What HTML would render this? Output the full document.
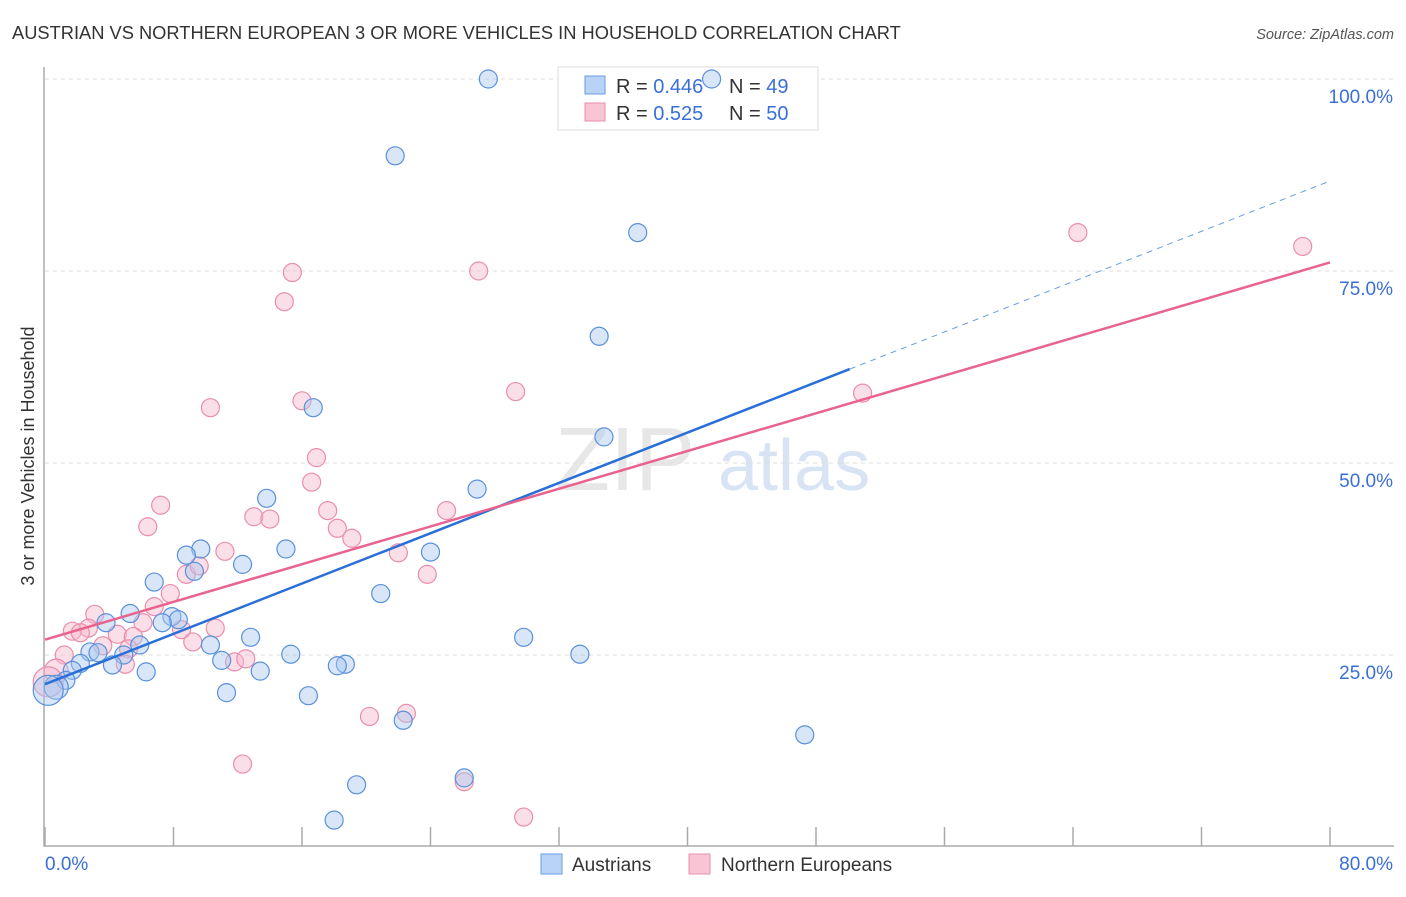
<!DOCTYPE html>
<html><head><meta charset="utf-8"><style>
body{margin:0;background:#fff;font-family:"Liberation Sans",sans-serif;}
svg text{font-family:"Liberation Sans",sans-serif;}
</style></head><body>
<svg width="1406" height="892" xmlns="http://www.w3.org/2000/svg">
<text x="12" y="39" font-size="18.3" fill="#333">AUSTRIAN VS NORTHERN EUROPEAN 3 OR MORE VEHICLES IN HOUSEHOLD CORRELATION CHART</text>
<text x="1394" y="39" font-size="14.5" fill="#555" font-style="italic" text-anchor="end">Source: ZipAtlas.com</text>
<text x="0" y="0" transform="translate(34,456) rotate(-90)" font-size="18" fill="#333" text-anchor="middle">3 or more Vehicles in Household</text>
<g><text x="555" y="490" font-size="90" fill="#ddd" font-family="Liberation Serif" opacity="0.7">ZIP</text><text x="718" y="490" font-size="72" fill="#c8d8f0" opacity="0.7">atlas</text></g>
<g id="grid"></g>
<g id="axes"></g>
<g>
<rect x="558" y="67" width="260" height="63" fill="#fff" stroke="#ddd"/>
<rect x="585" y="76" width="20" height="18" fill="#b8d3f5" stroke="#6a9de0"/>
<rect x="585" y="103" width="20" height="18" fill="#f9c5d4" stroke="#ea8eab"/>
<text x="616" y="93" font-size="20" fill="#333">R = <tspan fill="#3a6fd8">0.446</tspan></text>
<text x="729" y="93" font-size="20" fill="#333">N = <tspan fill="#3a6fd8">49</tspan></text>
<text x="616" y="120" font-size="20" fill="#333">R = <tspan fill="#3a6fd8">0.525</tspan></text>
<text x="729" y="120" font-size="20" fill="#333">N = <tspan fill="#3a6fd8">50</tspan></text>
</g>
<g id="marks"></g>
<g>
<rect x="541" y="854" width="21" height="20" fill="#b8d3f5" stroke="#6a9de0"/>
<text x="572" y="871" font-size="19" fill="#333">Austrians</text>
<rect x="689" y="854" width="21" height="20" fill="#f9c5d4" stroke="#ea8eab"/>
<text x="721" y="871" font-size="19" fill="#333">Northern Europeans</text>
</g>
</svg>
<script>
const blueX=[27.6,41.5,21.8,36.9,34.5,16.7,34.8,26.9,13.8,9.7,8.8,15.0,24.0,12.3,9.3,6.8,20.9,5.3,7.9,8.3,7.3,3.8,29.8,12.8,5.9,10.3,2.8,3.3,4.9,15.3,33.3,11.0,18.7,18.2,4.2,2.2,6.3,13.4,1.7,1.3,0.7,11.3,16.4,22.3,47.3,26.1,19.4,18.0,0.2];
const blueY=[100,100,90,80,66.5,57.2,53.4,46.6,45.4,38.8,38,38.8,38.4,36.8,35.9,34.5,33,30.4,30,29.6,29.2,29.2,27.3,27.3,26.3,26.3,25.4,25.3,25,25.1,25.1,24.3,23.8,23.6,23.7,23.9,22.8,22.9,23.0,21.7,20.8,20.1,19.7,16.5,14.6,9,8.1,3.5,20.4];
const pinkX=[64.3,78.3,15.4,27.0,14.9,29.3,50.9,10.3,16.0,16.9,16.6,7.2,17.6,6.4,13.0,14.0,25.0,18.2,19.1,11.2,22.0,23.8,8.8,9.6,7.8,6.8,3.1,6.1,2.7,1.7,2.2,10.6,8.5,4.5,5.5,9.2,3.6,5.2,1.2,11.8,12.5,5.0,0.7,20.2,22.5,12.3,26.1,29.8,0.2];
const pinkY=[80,78.2,74.8,75,71,59.3,59.1,57.2,58.1,50.7,47.5,44.5,43.8,41.7,43,42.7,43.8,41.5,40.2,38.5,38.3,35.5,35.5,36.6,33,31.3,30.3,29.2,28.5,28.1,27.9,28.5,28.3,27.7,27.4,26.7,26.2,25.8,25,24.1,24.5,23.8,22.9,17,17.4,10.8,8.5,3.9,21.5];
const trendBlue=[21.2,0.819];   // intercept %, slope per x%
const trendPink=[27.0,0.614];
const blueSolidEnd=50.1;
const xTicks=[0,8,16,24,32,40,48,56,64,72,80];
const yTicks=[25,50,75,100];
const yTickLabels=["25.0%","50.0%","75.0%","100.0%"];
const NS="http://www.w3.org/2000/svg";
const X=v=>45+v/80*1285, Y=v=>847-v/100*768;
function mk(t,a,p){const e=document.createElementNS(NS,t);for(const k in a)e.setAttribute(k,a[k]);p.appendChild(e);return e;}
const grid=document.getElementById('grid'),axes=document.getElementById('axes'),marks=document.getElementById('marks');
yTicks.forEach((v,i)=>{
 const l=mk('line',{x1:45,x2:1394,y1:Y(v),y2:Y(v),stroke:'#ddd','stroke-dasharray':'4,4'},grid);
 
 
 const t=mk('text',{x:1393,y:Y(v)+24,'font-size':19,fill:'#3a6fd8','text-anchor':'end'},axes);t.textContent=yTickLabels[i];
 
 
});
const ax=mk('path',{d:'M44,67V846H1394',fill:'none',stroke:'#aaa','stroke-width':1.5},axes);


xTicks.forEach(v=>{const l=mk('line',{x1:X(v),x2:X(v),y1:827,y2:846,stroke:'#aaa','stroke-width':1.5},axes);
 
 });
let t0=mk('text',{x:45,y:870,'font-size':19,fill:'#3a6fd8'},axes);t0.textContent='0.0%';


let t1=mk('text',{x:1393,y:870,'font-size':19,fill:'#3a6fd8','text-anchor':'end'},axes);t1.textContent='80.0%';


function pts(xs,ys,fill,stroke,name){xs.forEach((x,i)=>{const r=(x<0.5)?15:(x<1?12:9);
 const c=mk('circle',{cx:X(x),cy:Y(ys[i]),r:r,fill:fill,'fill-opacity':0.45,stroke:stroke,'stroke-width':1.2},marks);
 
 });}
pts(pinkX,pinkY,'#f7b8cb','#ea8eab','point-northern-european');
pts(blueX,blueY,'#a9c8f0','#5a90dc','point-austrian');
const bl=mk('line',{x1:X(0),y1:Y(trendBlue[0]),x2:X(blueSolidEnd),y2:Y(trendBlue[0]+trendBlue[1]*blueSolidEnd),stroke:'#2a6fd8','stroke-width':2.5},marks);


const bd=mk('line',{x1:X(blueSolidEnd),y1:Y(trendBlue[0]+trendBlue[1]*blueSolidEnd),x2:X(80),y2:Y(trendBlue[0]+trendBlue[1]*80),stroke:'#6a9de0','stroke-width':1,'stroke-dasharray':'6,5'},marks);


const pl=mk('line',{x1:X(0),y1:Y(trendPink[0]),x2:X(80),y2:Y(trendPink[0]+trendPink[1]*80),stroke:'#e8648e','stroke-width':2.5},marks);


</script>
</body></html>
